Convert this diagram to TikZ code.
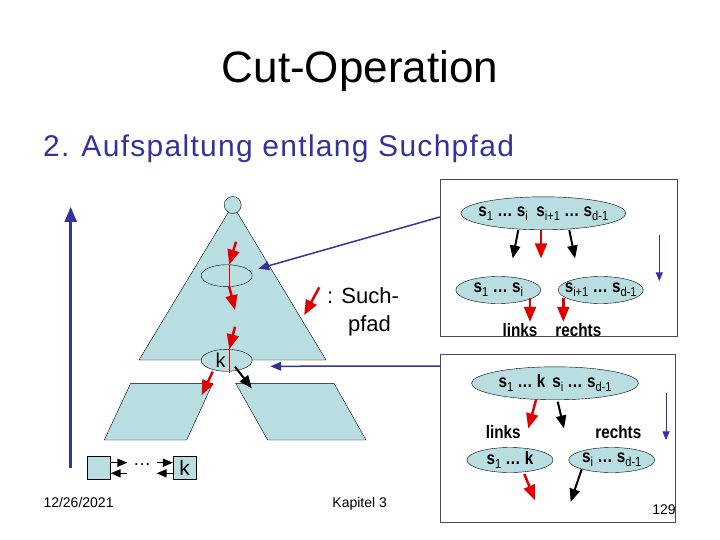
\documentclass[tikz,border=0pt]{standalone}
\usepackage{fontspec}
\usepackage{graphicx}
\setmainfont{Liberation Sans}
\usetikzlibrary{shapes,arrows,positioning}

\definecolor{paleblue}{RGB}{184,222,226}
\definecolor{navy}{RGB}{51,51,153}
\definecolor{pathred}{RGB}{224,0,0}
\newcommand{\boxtext}[1]{\makebox[0pt]{\scalebox{0.85}[1]{\fontsize{18}{20}\selectfont\bfseries #1}}}
\newcommand{\low}[1]{\raisebox{-4pt}{\fontsize{13}{13}\selectfont\mdseries #1}}

\begin{document}
\begin{tikzpicture}[x=1pt, y=-1pt]
    \tikzstyle{knot} = [ellipse, draw=black, fill=paleblue, inner sep=0pt]
    \tikzstyle{leaf} = [rectangle, draw=black, fill=paleblue, minimum size=23pt, inner sep=0pt]
    \tikzstyle{panel} = [rectangle, draw=black!70, thin]
    \tikzstyle{redarrow} = [->, >=triangle 45, draw=pathred, line width=2.5pt]
    \tikzstyle{blackarrow} = [->, >=triangle 45, line width=2pt]
    \tikzstyle{navyarrow} = [->, >=triangle 45, draw=navy, line width=1.5pt]
    \tikzstyle{smallarrow} = [->, >=triangle 45, line width=1.3pt]
    \useasboundingbox (0,0) rectangle (720,540);

    % heading
    \node [anchor=base, font=\fontsize{44}{50}\selectfont] (title) at (360,83) {Cut-Operation};
    \node [anchor=base west, inner sep=0pt, text=navy, font=\fontsize{30}{36}\selectfont\addfontfeature{LetterSpace=4.3}] (sub) at (43,157) {2.\hspace{12pt}Aufspaltung entlang Suchpfad};

    % tree with search path
    \filldraw [fill=paleblue] (232.7,205) -- (139,360) -- (326,360) -- cycle;
    \filldraw [fill=paleblue] (130.7,383.3) -- (212.7,383.3) -- (186.7,440) -- (104.3,440) -- cycle;
    \filldraw [fill=paleblue] (235.7,383.3) -- (334,383.3) -- (366,440) -- (267.7,440) -- cycle;
    \node [circle, draw, fill=paleblue, minimum size=17pt, inner sep=0pt] (root) at (232.7,205) {};
    \node [knot, minimum width=51pt, minimum height=22pt] (sp) at (226.7,275.7) {};
    \node [knot, minimum width=51pt, minimum height=22pt, font=\fontsize{20}{20}\selectfont] (kn) at (226.7,360.3) {\makebox[22pt][l]{k}};

    \coordinate (r1) at (236,241.7);
    \coordinate (r2) at (235,310);
    \coordinate (r3) at (235,326.7);
    \coordinate (kl) at (201.7,395);
    \coordinate (kr) at (251.7,388.3);
    \draw [redarrow] (r1) -- ([xshift=2.6pt]sp.north);
    \draw [pathred] ([xshift=2.6pt]sp.north) -- ([xshift=2.6pt]sp.south);
    \draw [redarrow] ([xshift=2.6pt]sp.south) -- (r2);
    \draw [redarrow] (r3) -- ([xshift=2.6pt]kn.north);
    \draw [pathred] ([xshift=2.6pt]kn.north) -- ([xshift=2.6pt,yshift=-1.5pt]kn.south);
    \draw [redarrow] ([shift={(-14pt,-11.4pt)}]kn.center) -- (kl);
    \draw [blackarrow] ([shift={(8.3pt,-6.4pt)}]kn.center) -- (kr);

    % legend
    \coordinate (la) at (319.3,287.3);
    \coordinate (lb) at (304.3,315);
    \draw [redarrow] (la) -- (lb);
    \node [anchor=base west, inner sep=0pt, font=\fontsize{22}{28}\selectfont] (such) at (327,303.3) {: Such-};
    \node [anchor=base, inner sep=0pt, font=\fontsize{22}{28}\selectfont] (pfad) at (369.5,331) {pfad};

    % height
    \coordinate (hbot) at (70.7,468);
    \coordinate (htop) at (70.7,207);
    \draw [navyarrow, line width=2.5pt] (hbot) -- (htop);

    % leaves
    \node [leaf] (leaf1) at (99,468) {};
    \node [leaf, font=\fontsize{21}{21}\selectfont] (leafk) at (184.5,468) {k};
    \node [inner sep=0pt, minimum width=29pt, font=\fontsize{18}{18}\selectfont] (dots) at (142,468) {\raisebox{6pt}{\dots}};
    \draw [smallarrow] ([yshift=5.3pt]leaf1.east) -- ([yshift=5.3pt]dots.west);
    \draw [smallarrow] ([yshift=-5.3pt]dots.west) -- ([yshift=-5.3pt]leaf1.east);
    \draw [smallarrow] ([yshift=5.3pt]dots.east) -- ([yshift=5.3pt]leafk.west);
    \draw [smallarrow] ([yshift=-5.3pt]leafk.west) -- ([yshift=-5.3pt]dots.east);

    % panel 1: splitting a node
    \node [panel, minimum width=237pt, minimum height=157pt] (box1) at (558.5,257.5) {};
    \node [knot, minimum width=165pt, minimum height=33pt] (top1) at (543.3,213.3)
        {\boxtext{s\low{1} \dots{} s\low{i}\hspace{10pt}s\low{i+1} \dots{} s\low{d-1}}};
    \node [knot, minimum width=85pt, minimum height=27pt] (sl1) at (498.3,290)
        {\boxtext{s\low{1} \dots{} s\low{i}}};
    \node [knot, minimum width=85pt, minimum height=27pt] (sr1) at (600.7,290)
        {\boxtext{s\low{i+1} \dots{} s\low{d-1}}};
    \node [inner sep=0pt] (lk1) at (520,330) {\boxtext{links}};
    \node [inner sep=0pt] (rc1) at (578.3,330) {\boxtext{rechts}};

    \coordinate (b1a) at (512.7,258.3);
    \coordinate (b1b) at (541,258.3);
    \coordinate (b1c) at (575,258.3);
    \coordinate (n1a) at (659.3,235);
    \coordinate (n1b) at (659.3,281);
    \coordinate (b1d) at (530,298.3);
    \coordinate (b1e) at (563.3,298.3);
    \coordinate (b1f) at (530,321.7);
    \coordinate (b1g) at (563.3,321.7);
    \draw [blackarrow] ([xshift=-25pt]top1.south) -- (b1a);
    \draw [redarrow] ([xshift=-2.3pt]top1.south) -- (b1b);
    \draw [blackarrow] ([xshift=26pt]top1.south) -- (b1c);
    \draw [navyarrow, line width=1pt] (n1a) -- (n1b);
    \draw [redarrow] (b1d) -- (b1f);
    \draw [redarrow] (b1e) -- (b1g);

    % panel 2: splitting at k
    \node [panel, minimum width=235pt, minimum height=168pt] (box2) at (557.5,438) {};
    \node [knot, minimum width=167pt, minimum height=33pt] (top2) at (555,383.3)
        {\boxtext{s\low{1} \dots{} k\hspace{8pt}s\low{i} \dots{} s\low{d-1}}};
    \node [inner sep=0pt] (lk2) at (503.3,431.7) {\boxtext{links}};
    \node [inner sep=0pt] (rc2) at (618.3,431.7) {\boxtext{rechts}};
    \node [knot, minimum width=86pt, minimum height=25pt] (sl2) at (510,460)
        {\boxtext{s\low{1} \dots{} k}};
    \node [knot, minimum width=86pt, minimum height=25pt] (sr2) at (611.7,460)
        {\boxtext{s\low{i} \dots{} s\low{d-1}}};

    \coordinate (b2a) at (536,400);
    \coordinate (b2b) at (528.3,428.3);
    \coordinate (b2c) at (557.7,401.7);
    \coordinate (b2d) at (564,428.3);
    \coordinate (n2a) at (666,393.3);
    \coordinate (n2b) at (666,440);
    \coordinate (b2e) at (524.3,474);
    \coordinate (b2f) at (535,500);
    \coordinate (b2g) at (581.7,469.3);
    \coordinate (b2h) at (570.7,501.7);
    \draw [redarrow] (b2a) -- (b2b);
    \draw [blackarrow] (b2c) -- (b2d);
    \draw [navyarrow, line width=1pt] (n2a) -- (n2b);
    \draw [redarrow] (b2e) -- (b2f);
    \draw [blackarrow] (b2g) -- (b2h);

    % connections to the panels
    \draw [navyarrow] ([yshift=40.5pt]box1.west) -- ([xshift=6pt,yshift=7pt]sp.east);
    \draw [navyarrow] ([yshift=72pt]box2.west) -- ([xshift=18pt,yshift=-6pt]kn.east);

    % footer
    \node [anchor=base west, inner sep=0pt, font=\fontsize{14}{16}\selectfont] (date) at (43.3,507) {12/26/2021};
    \node [anchor=base, inner sep=0pt, font=\fontsize{14}{16}\selectfont] (chap) at (359.7,507) {Kapitel 3};
    \node [anchor=base, inner sep=0pt, font=\fontsize{14}{16}\selectfont] (page) at (664,514) {129};
\end{tikzpicture}
\end{document}
